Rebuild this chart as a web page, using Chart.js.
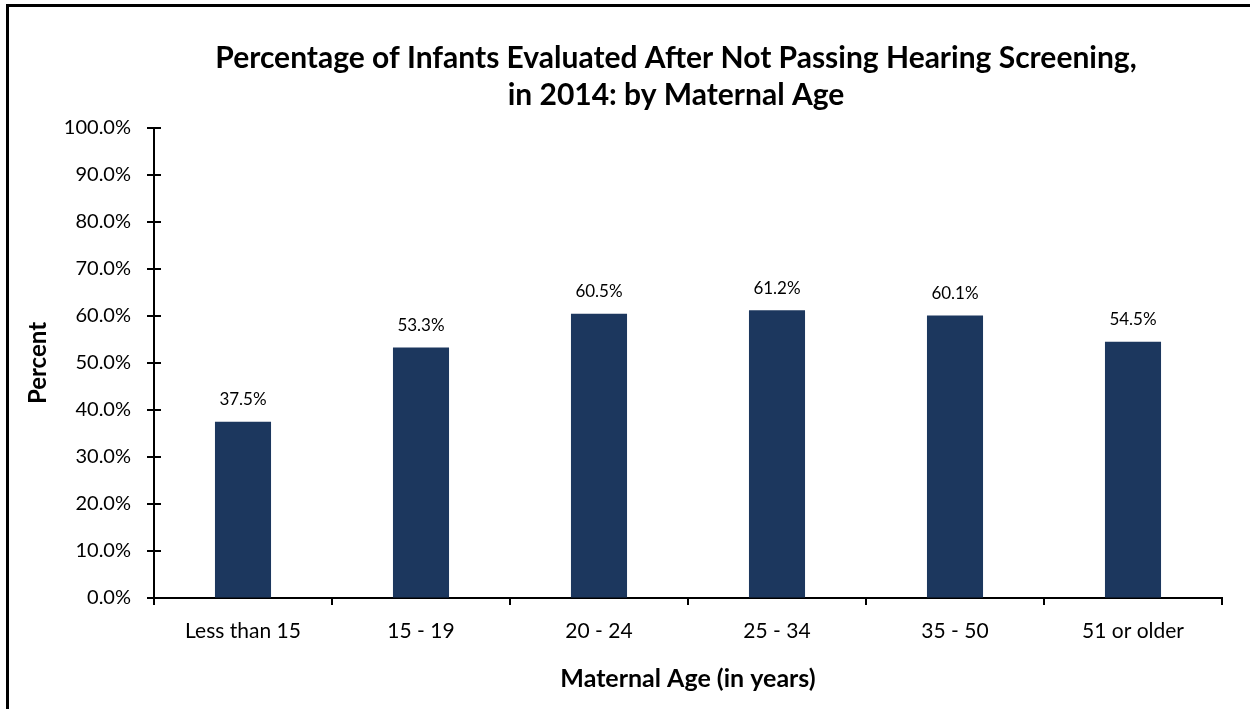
<!DOCTYPE html>
<html>
<head>
<meta charset="utf-8">
<script src="https://cdn.jsdelivr.net/npm/chart.js@4/dist/chart.umd.min.js"></script>
<style>
  body { margin: 0; background: #fff; overflow: hidden; }
  #frame { position: absolute; left: 6px; top: 4px; width: 1260px; height: 720px; border: 3px solid #000; }
  #chart1 { position: absolute; left: 0; top: 0; }
</style>
</head>
<body>
<div id="frame"></div>
<canvas id="chart1" width="1250" height="709"></canvas>
<script>
const ageGroups = ["Less than 15", "15 - 19", "20 - 24", "25 - 34", "35 - 50", "51 or older"];
const pctEvaluated = [37.5, 53.3, 60.5, 61.2, 60.1, 54.5];
const titleLines = ['Percentage of Infants Evaluated After Not Passing Hearing Screening,', 'in 2014: by Maternal Age'];
const barColor = '#1C375E';
const fontFam = 'Lato, "Noto Sans", sans-serif';

// value labels above each bar
const barLabels = {
    id: 'barLabels',
    afterDatasetsDraw(chart) {
        const ctx = chart.ctx;
        const meta = chart.getDatasetMeta(0);
        ctx.save();
        ctx.font = '17px ' + fontFam;
        ctx.fillStyle = '#000';
        ctx.textAlign = 'center';
        ctx.textBaseline = 'middle';
        meta.data.forEach((bar, i) => {
            ctx.fillText(pctEvaluated[i].toFixed(1) + '%', bar.x, bar.y - 22);
        });
        ctx.restore();
    }
};

// y tick marks that cross the axis line, and the two-line title
const extras = {
    id: 'extras',
    afterDraw(chart) {
        const y = chart.scales.y;
        const ctx = chart.ctx;
        ctx.save();
        ctx.strokeStyle = '#000';
        ctx.lineWidth = 2;
        y.ticks.forEach((t, i) => {
            const py = Math.round(y.getPixelForTick(i));
            ctx.beginPath();
            ctx.moveTo(y.right - 7, py);
            ctx.lineTo(y.right + 7, py);
            ctx.stroke();
        });
        ctx.fillStyle = '#000';
        ctx.font = 'bold 30px ' + fontFam;
        ctx.textAlign = 'center';
        ctx.textBaseline = 'middle';
        ctx.fillText(titleLines[0], 676, 58);
        ctx.fillText(titleLines[1], 676, 95);
        ctx.restore();
    }
};

new Chart("chart1", {
    type: "bar",
    data: {
        labels: ageGroups,
        datasets: [{
            backgroundColor: barColor,
            data: pctEvaluated,
            barPercentage: 0.315,
            categoryPercentage: 1
        }]
    },
    options: {
        responsive: false,
        animation: false,
        layout: { padding: { left: 0, right: 28, top: 128, bottom: 0 } },
        plugins: {
            legend: { display: false },
            tooltip: { enabled: false },
            title: { display: false }
        },
        scales: {
            x: {
                afterFit(scale) { scale.height = 111; },
                border: { color: '#000', width: 2 },
                grid: { drawOnChartArea: false, color: '#000', lineWidth: 2, tickLength: 7, offset: true },
                ticks: { color: '#000', padding: 14, font: { family: fontFam, size: 21 } },
                title: {
                    display: true,
                    text: 'Maternal Age (in years)',
                    color: '#000',
                    font: { family: fontFam, size: 25, weight: 'bold' },
                    padding: { top: 0, bottom: 15 }
                }
            },
            y: {
                min: 0,
                max: 100,
                afterFit(scale) { scale.width = 154; },
                border: { color: '#000', width: 2 },
                grid: { drawOnChartArea: false, drawTicks: false },
                ticks: {
                    stepSize: 10,
                    color: '#000',
                    padding: 23,
                    font: { family: fontFam, size: 20 },
                    callback: v => v.toFixed(1) + '%'
                },
                title: {
                    display: true,
                    text: 'Percent',
                    color: '#000',
                    font: { family: fontFam, size: 24, weight: 'bold' },
                    padding: { top: 24, bottom: 24 }
                }
            }
        }
    },
    plugins: [barLabels, extras]
});
</script>
</body>
</html>
